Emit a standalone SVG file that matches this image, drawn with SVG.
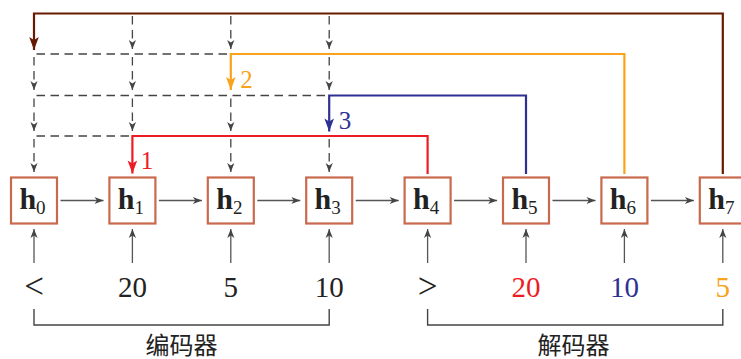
<svg xmlns="http://www.w3.org/2000/svg" width="741" height="359" viewBox="0 0 741 359">
<style>
.box{fill:#fff;stroke:#C9694E;stroke-width:2.2}
.lbl{font-family:"Liberation Serif",serif;font-size:30px;fill:#222;text-anchor:middle}
.sub{font-size:19px}
.num{font-family:"Liberation Serif",serif;font-size:29px;fill:#222;text-anchor:middle}
.rel{font-size:35px}
.red{fill:#ED1C24}
.blu{fill:#2E3192}
.org{fill:#F9A31B}
.idx{font-family:"Liberation Serif",serif;font-size:25px;text-anchor:middle}
.cjk{font-family:"Liberation Serif","Noto Sans CJK SC",serif;font-size:24px;fill:#222;text-anchor:middle}
.g{fill:none;stroke:#555;stroke-width:1.3}
.gd{fill:none;stroke:#444;stroke-width:1.3;stroke-dasharray:8.5 5.5}
.ga{marker-end:url(#ag)}
.c{fill:none;stroke-width:2.2}
.br{fill:none;stroke:#444;stroke-width:1.4}
</style>
<defs>
<marker id="ag" markerUnits="userSpaceOnUse" markerWidth="12" markerHeight="10" viewBox="-10 -5 12 10" refX="0" refY="0" orient="auto"><path d="M0,0 L-9,-3.6 L-6.5,0 L-9,3.6 z" fill="#444"/></marker>
<marker id="aBr" markerUnits="userSpaceOnUse" markerWidth="16" markerHeight="12" viewBox="-14 -6 16 12" refX="0" refY="0" orient="auto"><path d="M0,0 L-13,-4.8 L-10,0 L-13,4.8 z" fill="#661A00"/></marker>
<marker id="aOr" markerUnits="userSpaceOnUse" markerWidth="16" markerHeight="12" viewBox="-14 -6 16 12" refX="0" refY="0" orient="auto"><path d="M0,0 L-13,-4.8 L-10,0 L-13,4.8 z" fill="#F9A31B"/></marker>
<marker id="aBl" markerUnits="userSpaceOnUse" markerWidth="16" markerHeight="12" viewBox="-14 -6 16 12" refX="0" refY="0" orient="auto"><path d="M0,0 L-13,-4.8 L-10,0 L-13,4.8 z" fill="#2E3192"/></marker>
<marker id="aRd" markerUnits="userSpaceOnUse" markerWidth="16" markerHeight="12" viewBox="-14 -6 16 12" refX="0" refY="0" orient="auto"><path d="M0,0 L-13,-4.8 L-10,0 L-13,4.8 z" fill="#ED1C24"/></marker>
</defs>

<g id="connectors">
  <path class="gd" d="M36.5,54 H229"/>
  <path class="gd" d="M36.5,95.5 H327.5"/>
  <path class="gd" d="M36.5,136 H131"/>
  <path class="gd ga" d="M34,57 V90"/>
  <path class="gd ga" d="M34,98.5 V131"/>
  <path class="gd ga" d="M34,139 V172"/>
  <path class="gd ga" d="M132.4,16 V49"/>
  <path class="gd ga" d="M132.4,57 V90"/>
  <path class="gd ga" d="M132.4,98.5 V131"/>
  <path class="gd ga" d="M230.8,16 V49"/>
  <path class="gd ga" d="M230.8,98.5 V131"/>
  <path class="gd ga" d="M230.8,139 V172"/>
  <path class="gd ga" d="M329.2,16 V49"/>
  <path class="gd ga" d="M329.2,57 V90"/>
  <path class="gd ga" d="M329.2,139 V172"/>
  <path class="c" stroke="#661A00" d="M722.8,174 V13.5 H34 V50" marker-end="url(#aBr)"/>
  <path class="c" stroke="#F9A31B" d="M624.4,174 V54 H230.8 V90" marker-end="url(#aOr)"/>
  <path class="c" stroke="#2E3192" d="M526,174 V95.5 H329.2 V131.5" marker-end="url(#aBl)"/>
  <path class="c" stroke="#ED1C24" d="M427.6,174 V136 H132.4 V173.5" marker-end="url(#aRd)"/>
  <path class="g ga" d="M60.5,200.5 H103.5"/>
  <path class="g ga" d="M158.9,200.5 H201.9"/>
  <path class="g ga" d="M257.3,200.5 H300.3"/>
  <path class="g ga" d="M355.7,200.5 H398.7"/>
  <path class="g ga" d="M454.1,200.5 H497.1"/>
  <path class="g ga" d="M552.5,200.5 H595.5"/>
  <path class="g ga" d="M650.9,200.5 H693.9"/>
  <path class="g ga" d="M34,263 V229"/>
  <path class="g ga" d="M132.4,263 V229"/>
  <path class="g ga" d="M230.8,263 V229"/>
  <path class="g ga" d="M329.2,263 V229"/>
  <path class="g ga" d="M427.6,263 V229"/>
  <path class="g ga" d="M526,263 V229"/>
  <path class="g ga" d="M624.4,263 V229"/>
  <path class="g ga" d="M722.8,263 V229"/>
  <path class="br" d="M34,309 V325 H329.2 V309"/>
  <path class="br" d="M427.6,309 V325 H722.8 V309"/>
</g>

<g id="labels-idx">
  <text class="idx red" x="147" y="169">1</text>
  <text class="idx org" x="246.5" y="87.5">2</text>
  <text class="idx blu" x="345" y="128.5">3</text>
</g>

<g id="h0"><rect class="box" x="11" y="177.5" width="46" height="46"/><text class="lbl" x="32.5" y="209"><tspan font-weight="bold">h</tspan><tspan class="sub" dy="5">0</tspan></text></g>
<g id="h1"><rect class="box" x="109.4" y="177.5" width="46" height="46"/><text class="lbl" x="130.9" y="209"><tspan font-weight="bold">h</tspan><tspan class="sub" dy="5">1</tspan></text></g>
<g id="h2"><rect class="box" x="207.8" y="177.5" width="46" height="46"/><text class="lbl" x="229.3" y="209"><tspan font-weight="bold">h</tspan><tspan class="sub" dy="5">2</tspan></text></g>
<g id="h3"><rect class="box" x="306.2" y="177.5" width="46" height="46"/><text class="lbl" x="327.7" y="209"><tspan font-weight="bold">h</tspan><tspan class="sub" dy="5">3</tspan></text></g>
<g id="h4"><rect class="box" x="404.6" y="177.5" width="46" height="46"/><text class="lbl" x="426.1" y="209"><tspan font-weight="bold">h</tspan><tspan class="sub" dy="5">4</tspan></text></g>
<g id="h5"><rect class="box" x="503" y="177.5" width="46" height="46"/><text class="lbl" x="524.5" y="209"><tspan font-weight="bold">h</tspan><tspan class="sub" dy="5">5</tspan></text></g>
<g id="h6"><rect class="box" x="601.4" y="177.5" width="46" height="46"/><text class="lbl" x="622.9" y="209"><tspan font-weight="bold">h</tspan><tspan class="sub" dy="5">6</tspan></text></g>
<g id="h7"><rect class="box" x="699.8" y="177.5" width="46" height="46"/><text class="lbl" x="721.3" y="209"><tspan font-weight="bold">h</tspan><tspan class="sub" dy="5">7</tspan></text></g>

<g id="inputs">
  <text class="num rel" x="34" y="298">&lt;</text>
  <text class="num" x="132.4" y="297">20</text>
  <text class="num" x="230.8" y="297">5</text>
  <text class="num" x="329.2" y="297">10</text>
  <text class="num rel" x="427.6" y="298">&gt;</text>
  <text class="num red" x="526" y="297">20</text>
  <text class="num blu" x="624.4" y="297">10</text>
  <text class="num org" x="722.8" y="297">5</text>
</g>

<g id="encoder-label"><text class="cjk" x="181.6" y="354">编码器</text></g>
<g id="decoder-label"><text class="cjk" x="573.5" y="354">解码器</text></g>
</svg>
